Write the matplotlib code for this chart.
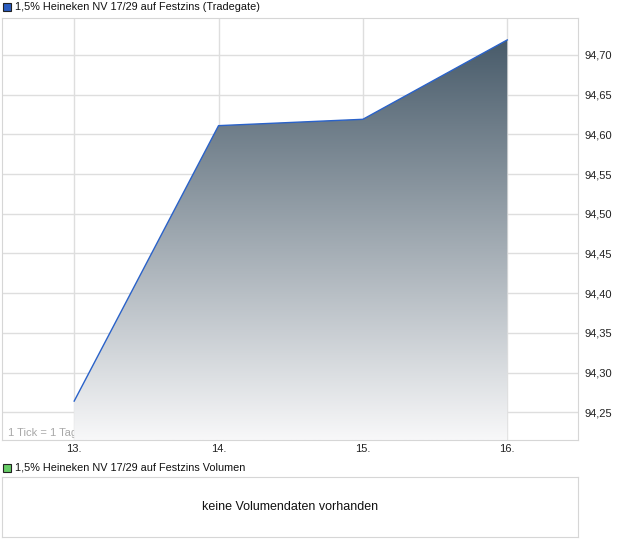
import numpy as np
import matplotlib
matplotlib.use('Agg')
import matplotlib.pyplot as plt
from matplotlib.colors import LinearSegmentedColormap
from matplotlib.patches import Rectangle

plt.rcParams['font.family'] = ['Liberation Sans', 'DejaVu Sans']

# Daten
tage = [13, 14, 15, 16]
kurse = [94.264, 94.611, 94.619, 94.719]
x_labels = ['13.', '14.', '15.', '16.']
y_ticks = [94.25, 94.30, 94.35, 94.40, 94.45, 94.50, 94.55, 94.60, 94.65, 94.70]
titel = '1,5% Heineken NV 17/29 auf Festzins (Tradegate)'
titel_vol = '1,5% Heineken NV 17/29 auf Festzins Volumen'
hinweis = 'keine Volumendaten vorhanden'

W, H = 620, 546
fig = plt.figure(figsize=(W / 100, H / 100), dpi=100)

rahmen = '#d6d6d6'
gitter = '#dedede'

# Hauptchart
ax = fig.add_axes([2 / W, 1 - 440 / H, 576 / W, 422 / H])

ax.set_xticks(tage)
ax.set_xticklabels(x_labels)
ax.set_yticks(y_ticks)
ax.set_yticklabels([f'{v:.2f}'.replace('.', ',') for v in y_ticks])
ax.yaxis.tick_right()
ax.tick_params(axis='both', length=0, labelsize=8, colors='#222222')
ax.tick_params(axis='y', pad=5)
ax.tick_params(axis='x', pad=3)
ax.grid(True, color=gitter, linewidth=1)
ax.set_axisbelow(True)
for s in ax.spines.values():
    s.set_color(rahmen)

ax.text(0.01, 0.004, '1 Tick = 1 Tag', transform=ax.transAxes, fontsize=8,
        color='#a8a8a8', ha='left', va='bottom', zorder=1)

# Verlaufsfüllung
poly = ax.fill_between(tage, kurse, 94.215, color='none', zorder=2)
cmap = LinearSegmentedColormap.from_list('verlauf', ['#f8f8f9', '#485b6a'])
grad = np.linspace(0, 1, 256).reshape(-1, 1)
img = ax.imshow(grad, cmap=cmap, aspect='auto', origin='lower',
                extent=[tage[0], tage[-1], 94.215, max(kurse)], zorder=2)
img.set_clip_path(poly.get_paths()[0], transform=ax.transData)
ax.set_xlim(12.5, 16.49)
ax.set_ylim(94.215, 94.7466)
ax.plot(tage, kurse, color='#2a62c9', linewidth=1, zorder=3)

# Legenden
fig.patches.append(Rectangle((3 / W, 1 - 11 / H), 8 / W, 8 / H, transform=fig.transFigure,
                             facecolor='#2a5cc0', edgecolor='#222222', linewidth=0.8))
fig.text(15 / W, 1 - 6.5 / H, titel, fontsize=7.8, va='center', ha='left', color='#111111')

fig.patches.append(Rectangle((3 / W, 1 - 472 / H), 8 / W, 8 / H, transform=fig.transFigure,
                             facecolor='#66cc66', edgecolor='#222222', linewidth=0.8))
fig.text(15 / W, 1 - 467.5 / H, titel_vol, fontsize=7.8, va='center', ha='left', color='#111111')

# Volumenbereich
ax2 = fig.add_axes([2 / W, 1 - 537 / H, 576 / W, 60 / H])
ax2.set_xticks([])
ax2.set_yticks([])
for s in ax2.spines.values():
    s.set_color(rahmen)
ax2.text(0.5, 0.5, hinweis, transform=ax2.transAxes, ha='center', va='center',
         fontsize=9, color='#111111')

fig.savefig('out.png', dpi=100)
